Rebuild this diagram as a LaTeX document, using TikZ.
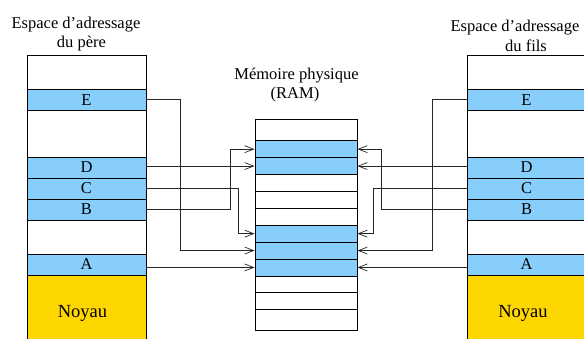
\documentclass[tikz,border=0pt]{standalone}
\usepackage{fontspec}
\setmainfont{Liberation Serif}
\usetikzlibrary{arrows.meta}
\definecolor{pageblue}{RGB}{135,206,250}
\definecolor{noyaugold}{RGB}{255,215,0}

\begin{document}
\begin{tikzpicture}[x=1pt,y=-1pt,>={Straight Barb[length=9pt,width=7pt]},
        seg/.style={draw,line width=0.8pt,minimum width=119pt,inner sep=0pt,font=\fontsize{16.5}{19}\selectfont},
        page/.style={seg,fill=pageblue},
        cell/.style={draw,line width=0.8pt,minimum width=102pt,minimum height=16.9pt,inner sep=0pt},
        caption/.style={anchor=base,inner sep=0pt,font=\fontsize{16.5}{19}\selectfont},
        link/.style={->,line width=0.7pt,black!85}]
        \useasboundingbox (0,0) rectangle (584,338);
        % espace du pere
        \node[seg,minimum height=34pt] (Ltop) at (86.5,72) {};
        \node[page,minimum height=21.5pt] (Le) at (86.5,99.75) {E};
        \node[seg,minimum height=46.5pt] (Lgap) at (86.5,133.75) {};
        \node[page,minimum height=21pt] (Ld) at (86.5,167.5) {D};
        \node[page,minimum height=21pt] (Lc) at (86.5,188.5) {C};
        \node[page,minimum height=21pt] (Lb) at (86.5,209.5) {B};
        \node[seg,minimum height=34pt] (Lgapb) at (86.5,237) {};
        \node[page,minimum height=21pt] (La) at (86.5,264.5) {A};
        \node[seg,fill=noyaugold,minimum height=70pt] (Lk) at (86.5,310) {};
        \node[anchor=base,font=\fontsize{18.5}{21}\selectfont] (lnoyau) at (82.5,317.3) {Noyau};
        \node[caption] (lpere) at (76,28.3) {Espace d'adressage};
        \node[caption] (lpereb) at (81.5,47.7) {du père};
        % espace du fils
        \node[seg,minimum height=34pt] (Rtop) at (526.5,72) {};
        \node[page,minimum height=21.5pt] (Re) at (526.5,99.75) {E};
        \node[seg,minimum height=46.5pt] (Rgap) at (526.5,133.75) {};
        \node[page,minimum height=21pt] (Rd) at (526.5,167.5) {D};
        \node[page,minimum height=21pt] (Rc) at (526.5,188.5) {C};
        \node[page,minimum height=21pt] (Rb) at (526.5,209.5) {B};
        \node[seg,minimum height=34pt] (Rgapb) at (526.5,237) {};
        \node[page,minimum height=21pt] (Ra) at (526.5,264.5) {A};
        \node[seg,fill=noyaugold,minimum height=70pt] (Rk) at (526.5,310) {};
        \node[anchor=base,font=\fontsize{18.5}{21}\selectfont] (rnoyau) at (523,317.3) {Noyau};
        \node[caption] (lfils) at (515,31.5) {Espace d'adressage};
        \node[caption] (lfilsb) at (526,51.5) {du fils};
        % memoire physique
        \node[cell,minimum height=21.7pt] (r0) at (306,129.85) {};
        \foreach \i/\col in {1/pageblue,2/pageblue,3/white,4/white,5/white,6/pageblue,7/pageblue,8/pageblue,9/white,10/white}
            \node[cell,fill=\col] (r\i) at (306,{132.25+16.9*\i}) {};
        \node[cell,minimum height=20.3pt] (r11) at (306,319.85) {};
        \node[caption] (lram) at (296.5,79.3) {Mémoire physique};
        \node[caption] (lramb) at (295,98.3) {(RAM)};
        % liens pere
        \draw[link] (Le.east) -- ++(34,0) |- (r7.west);
        \draw[link] (Ld.east |- r2.west) -- (r2.west);
        \draw[link] (Lc.east) -- ++(92,0) |- (r6.west);
        \draw[link] (Lb.east) -- ++(84,0) |- (r1.west);
        \draw[link] (La.east |- r8.west) -- (r8.west);
        % liens fils
        \draw[link] (Re.west) -- ++(-34.3,0) |- (r7.east);
        \draw[link] (Rd.west |- r2.east) -- (r2.east);
        \draw[link] (Rc.west) -- ++(-93.7,0) |- (r6.east);
        \draw[link] (Rb.west) -- ++(-85.3,0) |- (r1.east);
        \draw[link] (Ra.west |- r8.east) -- (r8.east);
\end{tikzpicture}
\end{document}
